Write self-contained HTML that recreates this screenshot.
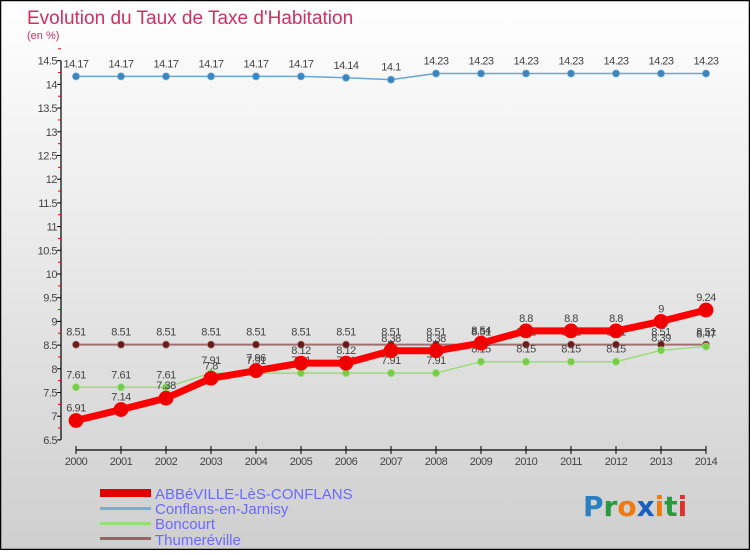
<!DOCTYPE html>
<html><head><meta charset="utf-8"><style>
html,body{margin:0;padding:0}
body{width:750px;height:550px;overflow:hidden;font-family:"Liberation Sans",sans-serif}
</style></head><body>
<svg id="chart" width="750" height="550" xmlns="http://www.w3.org/2000/svg">
<defs><linearGradient id="bg" x1="0" y1="0" x2="0" y2="1"><stop offset="0" stop-color="#ffffff"/><stop offset="1" stop-color="#cfcfcf"/></linearGradient></defs>
<rect x="0.5" y="0.5" width="749" height="549" fill="url(#bg)" stroke="#000" stroke-width="1.5"/>
<text x="27" y="24" font-size="19" fill="#d03060">Evolution du Taux de Taxe d'Habitation</text>
<text x="27" y="39" font-size="11" fill="#d03060">(en %)</text>
<g id="axes"></g>
<g id="series"></g>
<g font-size="15" fill="#6a6aff">
<rect x="100" y="489" width="51" height="8" fill="#e00000"/>
<text x="155" y="499">ABBéVILLE-LèS-CONFLANS</text>
<rect x="100" y="507" width="51" height="3" fill="#7aaed0"/>
<text x="155" y="514">Conflans-en-Jarnisy</text>
<rect x="100" y="522" width="51" height="3" fill="#99dd77"/>
<text x="155" y="529">Boncourt</text>
<rect x="100" y="537" width="51" height="3" fill="#996666"/>
<text x="155" y="545">Thumeréville</text>
</g>
<text x="583" y="516" font-size="28" font-weight="bold" font-family="DejaVu Sans, sans-serif"><tspan fill="#2a7fc0">P</tspan><tspan fill="#2a9a40">r</tspan><tspan fill="#f07a10">o</tspan><tspan fill="#1a60c0">x</tspan><tspan fill="#f07a10">i</tspan><tspan fill="#2a9a40">t</tspan><tspan fill="#e03030">i</tspan></text>
</svg>
<script>
const years=[2000,2001,2002,2003,2004,2005,2006,2007,2008,2009,2010,2011,2012,2013,2014];
const abbeville=[6.91,7.14,7.38,7.8,7.96,8.12,8.12,8.38,8.38,8.54,8.8,8.8,8.8,9,9.24];
const conflans=[14.17,14.17,14.17,14.17,14.17,14.17,14.14,14.1,14.23,14.23,14.23,14.23,14.23,14.23,14.23];
const boncourt=[7.61,7.61,7.61,7.91,7.91,7.91,7.91,7.91,7.91,8.15,8.15,8.15,8.15,8.39,8.47];
const thumereville=[8.51,8.51,8.51,8.51,8.51,8.51,8.51,8.51,8.51,8.51,8.51,8.51,8.51,8.51,8.51];
const yTicks=[6.5,7,7.5,8,8.5,9,9.5,10,10.5,11,11.5,12,12.5,13,13.5,14,14.5];
const NS="http://www.w3.org/2000/svg";
const x=i=>76+i*45;
const y=v=>60.7+(14.5-v)*47.4;
function mk(tag,attrs,parent){const e=document.createElementNS(NS,tag);for(const k in attrs)e.setAttribute(k,attrs[k]);parent.appendChild(e);return e;}
const axes=document.getElementById('axes');
const ya=mk('line',{x1:61,y1:y(14.5),x2:61,y2:y(6.5),stroke:'#000','stroke-width':1.2},axes);


yTicks.forEach(t=>{
  mk('line',{x1:57,x2:61,y1:y(t),y2:y(t),stroke:'#000'},axes);
  mk('line',{x1:58,x2:61,y1:y(t+0.25),y2:y(t+0.25),stroke:'#e00'},axes);
  const tx=mk('text',{x:57,y:y(t)+4,'font-size':11,'text-anchor':'end',fill:'#444','letter-spacing':'-0.5'},axes);
  
  
  tx.textContent=t;
});
const xa=mk('line',{x1:x(0),y1:450,x2:x(years.length-1),y2:450,stroke:'#000','stroke-width':1.2},axes);


years.forEach((yr,i)=>{
  mk('line',{x1:x(i),x2:x(i),y1:446,y2:454,stroke:'#000'},axes);
  const tx=mk('text',{x:x(i),y:465,'font-size':11,'text-anchor':'middle',fill:'#444','letter-spacing':'-0.5'},axes);
  
  
  tx.textContent=yr;
});
const sg=document.getElementById('series');
function draw(name,data,color,w,r,dot){
  const g=mk('g',{},sg);
  
  
  const pl=mk('polyline',{points:data.map((v,i)=>x(i)+','+y(v)).join(' '),fill:'none',stroke:color,'stroke-width':w,'stroke-linejoin':'round'},g);
  
  
  data.forEach((v,i)=>{
    const c=mk('circle',{cx:x(i),cy:y(v),r:r,fill:dot,stroke:color,'stroke-width':0.8},g);
    
    
    const t=mk('text',{x:x(i),y:y(v)-9,'font-size':11,'text-anchor':'middle',fill:'#444','letter-spacing':'-0.5'},g);
    
    
    t.textContent=v;
  });
}
draw('conflans',conflans,'#6aa6d4',1.5,3.5,'#3a86c0');
draw('thumereville',thumereville,'#a07070',2,3.5,'#6a1a1a');
draw('boncourt',boncourt,'#99dd77',1.5,3.5,'#77cc44');
draw('abbeville',abbeville,'#ff0000',7,7,'#ee0000');
</script>
</body></html>
